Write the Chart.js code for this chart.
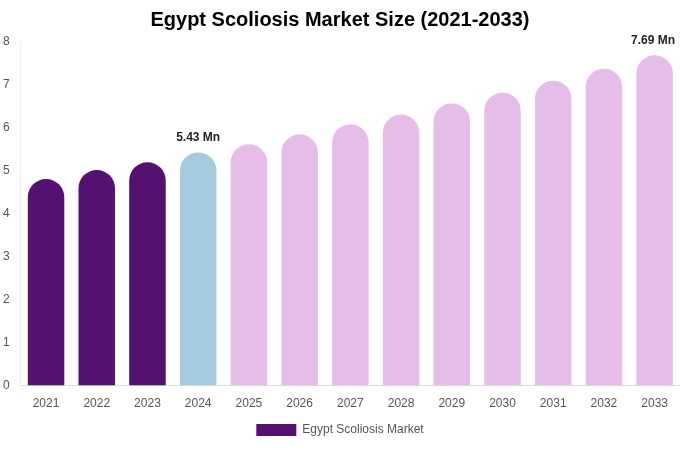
<!DOCTYPE html>
<html><head><meta charset="utf-8">
<script src="https://cdn.jsdelivr.net/npm/chart.js@4"></script>
<style>body{margin:0;background:#fff}#w{width:680px;height:450px}</style>
</head><body><div id="w"><canvas id="c"></canvas></div>
<script>
const categories = ["2021","2022","2023","2024","2025","2026","2027","2028","2029","2030","2031","2032","2033"];
const values = [4.81,5.02,5.20,5.43,5.62,5.85,6.08,6.31,6.57,6.82,7.10,7.38,7.69];
const barColors = ["#541171","#541171","#541171","#a5cbdf","#e6bde8","#e6bde8","#e6bde8","#e6bde8","#e6bde8","#e6bde8","#e6bde8","#e6bde8","#e6bde8"];
const labelled = {3:"5.43 Mn",12:"7.69 Mn"};
const labelPlugin = {id:"lbl",afterDatasetsDraw(ch){
  const ctx=ch.ctx, meta=ch.getDatasetMeta(0);
  ctx.save();ctx.font="bold 12px Arial, 'Liberation Sans'";ctx.fillStyle="#222";ctx.textAlign="center";ctx.textBaseline="bottom";
  for(const i in labelled){const b=meta.data[i];let x=b.x;if(i==12)x=Math.min(x,653);ctx.fillText(labelled[i],x,b.y-9);}
  ctx.restore();}};
new Chart(document.getElementById("c"),{type:"bar",
 data:{labels:categories,datasets:[{label:"Egypt Scoliosis Market",data:values,backgroundColor:barColors,
   borderRadius:{topLeft:19,topRight:19},borderSkipped:"bottom",barPercentage:0.72,categoryPercentage:1}]},
 options:{responsive:true,maintainAspectRatio:false,animation:false,
  layout:{padding:{left:0,right:0,top:0,bottom:4}},
  plugins:{title:{display:true,text:"Egypt Scoliosis Market Size (2021-2033)",color:"#000",font:{size:20,weight:"bold",family:"Arial, 'Liberation Sans'"},padding:{top:8,bottom:10}},
   legend:{position:"bottom",labels:{color:"#555",font:{size:12,family:"Arial, 'Liberation Sans'"},boxWidth:40,boxHeight:12,
     generateLabels:()=>[{text:"Egypt Scoliosis Market",fillStyle:"#541171",strokeStyle:"#541171",lineWidth:0,fontColor:"#555"}]}},
   tooltip:{enabled:false}},
  scales:{x:{grid:{display:false},border:{color:"#ddd"},ticks:{color:"#555",font:{size:12,family:"Arial, 'Liberation Sans'"}}},
   y:{min:0,max:8,grid:{display:false},border:{color:"#eee"},ticks:{stepSize:1,color:"#555",font:{size:12,family:"Arial, 'Liberation Sans'"}}}}},
 plugins:[labelPlugin]});
</script></body></html>
